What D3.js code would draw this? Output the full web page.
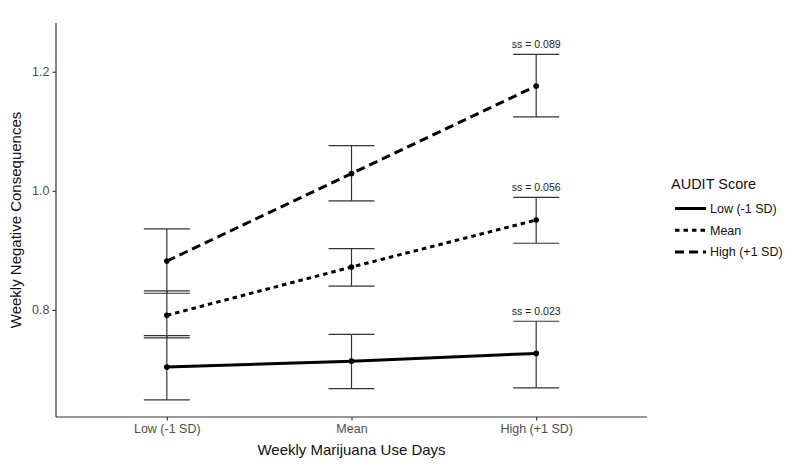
<!DOCTYPE html>
<html>
<head>
<meta charset="utf-8">
<script src="https://cdn.jsdelivr.net/npm/d3@7"></script>
<style>
  body { margin: 0; background: #fff; }
  svg { font-family: "Liberation Sans", Arial, sans-serif; }
</style>
</head>
<body>
<div id="chart"></div>
<script>
// x categories and AUDIT groups
var useDays = ["Low (-1 SD)", "Mean", "High (+1 SD)"];
var groups = ["Low (-1 SD)", "Mean", "High (+1 SD)"];

// estimated means and CI per group (order follows useDays)
var lowMean  = [0.704, 0.714, 0.727];
var lowLo    = [0.649, 0.668, 0.669];
var lowHi    = [0.757, 0.759, 0.781];
var midMean  = [0.791, 0.872, 0.951];
var midLo    = [0.753, 0.840, 0.912];
var midHi    = [0.832, 0.903, 0.989];
var highMean = [0.882, 1.029, 1.176];
var highLo   = [0.828, 0.983, 1.124];
var highHi   = [0.936, 1.076, 1.229];
var slopeLabels = ["ss = 0.023", "ss = 0.056", "ss = 0.089"];
var yTicks = [0.8, 1.0, 1.2];

var series = [
  { name: groups[0], mean: lowMean, lo: lowLo, hi: lowHi, dash: null, ss: slopeLabels[0] },
  { name: groups[1], mean: midMean, lo: midLo, hi: midHi, dash: "4.5,4", ss: slopeLabels[1] },
  { name: groups[2], mean: highMean, lo: highLo, hi: highHi, dash: "9,5", ss: slopeLabels[2] }
];

var W = 800, H = 467;
var m = { left: 56, right: 647, top: 23, bottom: 417 };

var svg = d3.select("#chart").append("svg")
  .attr("width", W).attr("height", H);

var x = d3.scalePoint()
  .domain(useDays)
  .range([m.left, m.right])
  .padding(0.6);

var y = d3.scaleLinear()
  .domain([0.6202, 1.2818])
  .range([m.bottom, m.top]);

// axes
var yAxis = svg.append("g")
  .attr("transform", "translate(" + m.left + ",0)")
  .call(d3.axisLeft(y).tickValues(yTicks).tickFormat(d3.format(".1f")).tickSizeOuter(0).tickSize(3.5).tickPadding(3));
var xAxis = svg.append("g")
  .attr("transform", "translate(0," + m.bottom + ")")
  .call(d3.axisBottom(x).tickSizeOuter(0).tickSize(3.5).tickPadding(4));

[yAxis, xAxis].forEach(function(a) {
  a.select(".domain").attr("stroke", "#333").attr("stroke-width", 1.2);
  a.selectAll(".tick line").attr("stroke", "#333").attr("stroke-width", 1.1);
  a.selectAll(".tick text").attr("fill", "#4d4d4d").style("font-size", "12.5px");
});
yAxis.select(".domain").attr("d", "M0," + m.top + "V" + m.bottom);
xAxis.select(".domain").attr("d", "M" + m.left + ",0H" + m.right);

svg.append("text")
  .attr("x", (m.left + m.right) / 2).attr("y", 455)
  .attr("text-anchor", "middle")
  .style("font-size", "15px").attr("fill", "#111")
  .text("Weekly Marijuana Use Days");

svg.append("text")
  .attr("transform", "translate(21," + ((m.top + m.bottom) / 2) + ") rotate(-90)")
  .attr("text-anchor", "middle")
  .style("font-size", "15px").attr("fill", "#111")
  .text("Weekly Negative Consequences");

var plot = svg.append("g");

// error bars
series.forEach(function(s) {
  var g = plot.append("g").attr("stroke", "#333").attr("stroke-width", 1.2);
  useDays.forEach(function(c, i) {
    var cx = x(c);
    g.append("line").attr("x1", cx).attr("x2", cx).attr("y1", y(s.lo[i])).attr("y2", y(s.hi[i]));
    g.append("line").attr("x1", cx - 23).attr("x2", cx + 23).attr("y1", y(s.lo[i])).attr("y2", y(s.lo[i]));
    g.append("line").attr("x1", cx - 23).attr("x2", cx + 23).attr("y1", y(s.hi[i])).attr("y2", y(s.hi[i]));
  });
});

var line = d3.line()
  .x(function(d, i) { return x(useDays[i]); })
  .y(function(d) { return y(d); });

series.forEach(function(s) {
  plot.append("path")
    .attr("d", line(s.mean))
    .attr("fill", "none")
    .attr("stroke", "#000")
    .attr("stroke-width", 3)
    .attr("stroke-dasharray", s.dash);
  plot.selectAll(null)
    .data(s.mean)
    .enter().append("circle")
    .attr("cx", function(d, i) { return x(useDays[i]); })
    .attr("cy", function(d) { return y(d); })
    .attr("r", 2.8)
    .attr("fill", "#000");
  // slope label above last CI
  plot.append("text")
    .attr("x", x(useDays[2]))
    .attr("y", y(s.hi[2]) - 6)
    .attr("text-anchor", "middle")
    .style("font-size", "10.5px")
    .attr("fill", "#222")
    .text(s.ss);
});

// legend
var leg = svg.append("g").attr("transform", "translate(671,0)");
leg.append("text")
  .attr("x", 0).attr("y", 189)
  .style("font-size", "14.5px").attr("fill", "#111")
  .text("AUDIT Score");
series.forEach(function(s, i) {
  var ly = 208.5 + i * 21.7;
  leg.append("line")
    .attr("x1", 4).attr("x2", 35)
    .attr("y1", ly).attr("y2", ly)
    .attr("stroke", "#000").attr("stroke-width", 3)
    .attr("stroke-dasharray", s.dash);
  leg.append("text")
    .attr("x", 39).attr("y", ly + 4.5)
    .style("font-size", "12.5px").attr("fill", "#111")
    .text(s.name);
});
</script>
</body>
</html>
